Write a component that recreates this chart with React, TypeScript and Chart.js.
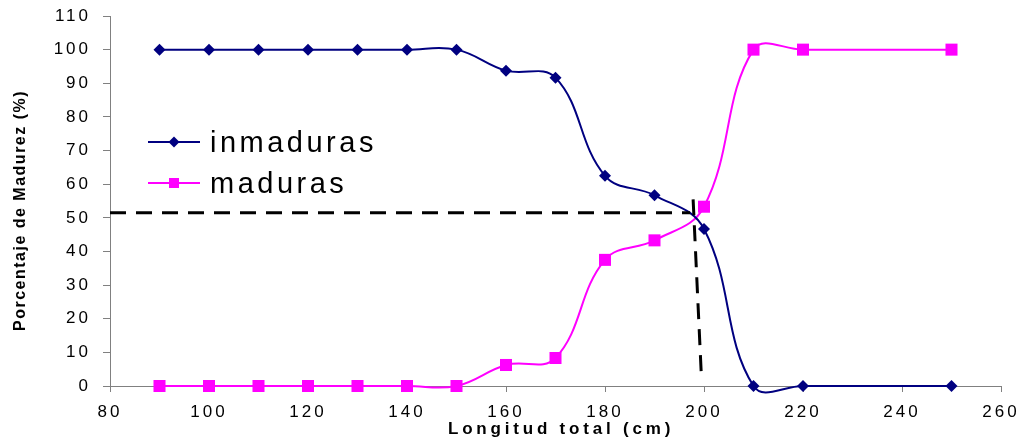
import React, { useEffect, useRef } from "react";
import { Chart, registerables } from "chart.js";

Chart.register(...registerables);

// ---- data ----
const lengths = [90, 100, 110, 120, 130, 140, 150, 160, 170, 180, 190, 200, 210, 220, 250];
const inmaduras = [100, 100, 100, 100, 100, 100, 100, 93.75, 91.67, 62.5, 56.7, 46.7, 0, 0, 0];
const maduras = [0, 0, 0, 0, 0, 0, 0, 6.25, 8.33, 37.5, 43.3, 53.3, 100, 100, 100];
const seriesNames = ["inmaduras", "maduras"];
// L50 guide (dashed)
const guideHX = [80, 197.2];
const guideHY = [51.5, 51.5];
const guideVX = [197.8, 199.5];
const guideVY = [55.5, 2];
const xAxis = { min: 80, max: 260, step: 20 };
const yAxis = { min: 0, max: 110, step: 10 };
const xTitle = "Longitud total (cm)";
const yTitle = "Porcentaje de Madurez (%)";

const NAVY = "#000080";
const MAGENTA = "#FF00FF";
const AXIS = "#808080";
const FONT = '"Liberation Sans", Arial, sans-serif';

const pts = (xs: number[], ys: number[]) => xs.map((x, i) => ({ x, y: ys[i] }));

const decorPlugin = {
  id: "decor",
  beforeDraw(chart: any) {
    (chart.ctx as any).letterSpacing = "3px";
  },
  afterDraw(chart: any) {
    const ctx = chart.ctx as any;
    ctx.save();
    ctx.letterSpacing = "0px";
    // x title
    ctx.fillStyle = "#000";
    ctx.font = `bold 17px ${FONT}`;
    ctx.letterSpacing = "3.8px";
    ctx.textAlign = "left";
    ctx.textBaseline = "alphabetic";
    ctx.fillText(xTitle, 448, 434);
    // y title
    ctx.save();
    ctx.font = `bold 16px ${FONT}`;
    ctx.letterSpacing = "1.5px";
    ctx.translate(25, 331);
    ctx.rotate(-Math.PI / 2);
    ctx.fillText(yTitle, 0, 0);
    ctx.restore();
    // legend
    const rows = [
      { y: 142, color: NAVY, style: "diamond", label: seriesNames[0] },
      { y: 183, color: MAGENTA, style: "square", label: seriesNames[1] },
    ];
    for (const r of rows) {
      ctx.strokeStyle = r.color;
      ctx.lineWidth = 2;
      ctx.beginPath();
      ctx.moveTo(148, r.y);
      ctx.lineTo(200, r.y);
      ctx.stroke();
      ctx.fillStyle = r.color;
      ctx.beginPath();
      if (r.style === "diamond") {
        const s = 5.5;
        ctx.moveTo(174, r.y - s);
        ctx.lineTo(174 + s, r.y);
        ctx.lineTo(174, r.y + s);
        ctx.lineTo(174 - s, r.y);
        ctx.closePath();
      } else {
        ctx.rect(169, r.y - 5, 10, 10);
      }
      ctx.fill();
      ctx.fillStyle = "#000";
      ctx.font = `29px ${FONT}`;
      ctx.letterSpacing = "3.5px";
      ctx.fillText(r.label, 210, r.y + 10);
    }
    ctx.restore();
    ctx.letterSpacing = "0px";
  },
};

export default function App() {
  const ref = useRef<HTMLCanvasElement | null>(null);
  useEffect(() => {
    document.body.style.margin = "0";
    const canvas = ref.current!;
    const chart = new Chart(canvas, {
      type: "line",
      data: {
        datasets: [
          {
            label: seriesNames[0],
            data: pts(lengths, inmaduras),
            borderColor: NAVY,
            backgroundColor: NAVY,
            borderWidth: 2,
            pointStyle: "rectRot",
            pointRadius: 6,
            pointBorderWidth: 0,
            tension: 0.4,
            clip: false,
            order: 1,
          },
          {
            label: seriesNames[1],
            data: pts(lengths, maduras),
            borderColor: MAGENTA,
            backgroundColor: MAGENTA,
            borderWidth: 2,
            pointStyle: "rect",
            pointRadius: 8.5,
            pointBorderWidth: 0,
            tension: 0.4,
            clip: false,
            order: 2,
          },
          {
            label: "L50 h",
            data: pts(guideHX, guideHY),
            borderColor: "#000",
            borderWidth: 3,
            borderDash: [16, 10],
            pointRadius: 0,
            tension: 0,
            clip: false,
            order: 0,
          },
          {
            label: "L50 v",
            data: pts(guideVX, guideVY),
            borderColor: "#000",
            borderWidth: 3,
            borderDash: [16, 10],
            pointRadius: 0,
            tension: 0,
            clip: false,
            order: 0,
          },
        ],
      },
      options: {
        animation: false,
        responsive: false,
        devicePixelRatio: 1,
        layout: { padding: { top: 16, right: 21, left: 0, bottom: 0 } },
        elements: { line: { capBezierPoints: false } },
        plugins: { legend: { display: false }, tooltip: { enabled: false } },
        scales: {
          x: {
            type: "linear",
            min: xAxis.min,
            max: xAxis.max,
            ticks: {
              stepSize: xAxis.step,
              color: "#000",
              font: { family: FONT, size: 17 },
              padding: 10,
              maxRotation: 0,
            },
            grid: { drawOnChartArea: false, drawTicks: true, tickLength: 6, color: AXIS },
            border: { color: AXIS, width: 1 },
            afterFit: (s: any) => {
              s.height = 61;
              s.paddingLeft = 0;
              s.paddingRight = 0;
            },
          },
          y: {
            type: "linear",
            min: yAxis.min,
            max: yAxis.max,
            ticks: {
              stepSize: yAxis.step,
              color: "#000",
              font: { family: FONT, size: 17 },
              padding: 12,
            },
            grid: { drawOnChartArea: false, drawTicks: true, tickLength: 7, color: AXIS },
            border: { color: AXIS, width: 1 },
            afterFit: (s: any) => {
              s.width = 110;
              s.paddingTop = 0;
              s.paddingBottom = 0;
            },
          },
        },
      } as any,
      plugins: [decorPlugin],
    });
    return () => chart.destroy();
  }, []);
  return (
    <div style={{ width: 1022, height: 447, background: "#fff" }}>
      <canvas ref={ref} width={1022} height={447} style={{ display: "block" }} />
    </div>
  );
}
